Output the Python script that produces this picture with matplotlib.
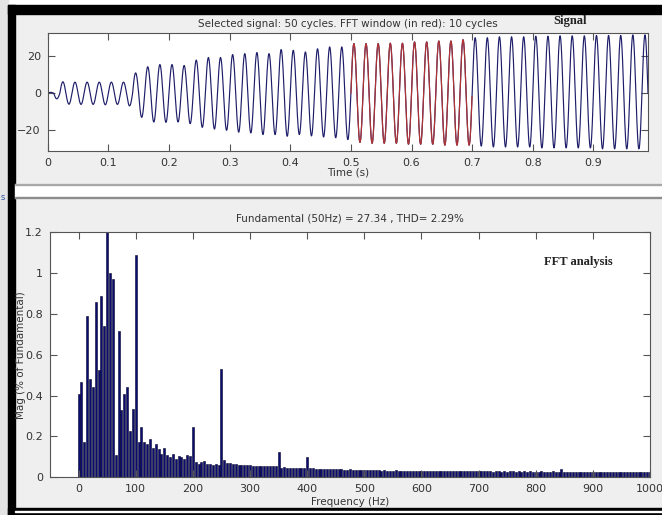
import numpy as np
import matplotlib
matplotlib.use('Agg')
import matplotlib.pyplot as plt
from matplotlib.patches import Rectangle

# per-cycle amplitudes of the 50 Hz signal (positive half, negative half)
peaks = [0.5, 6.2, 6.0, 6.0, 6.0, 6.0, 6.0, 11.0, 14.3, 15.5,
         15.5, 15.0, 17.9, 19.3, 19.3, 20.9, 21.4, 22.0, 21.4, 23.6,
         23.2, 22.3, 24.0, 25.0, 25.0, 26.8, 26.8, 26.8, 27.0, 27.0,
         27.7, 27.7, 28.2, 28.2, 28.9, 30.0, 30.0, 30.5, 30.5, 30.5,
         30.8, 30.8, 31.0, 31.0, 31.0, 31.2, 31.2, 31.2, 31.5, 31.5]
troughs = [3.0, 5.9, 6.0, 6.0, 6.2, 6.0, 6.8, 13.0, 15.5, 15.7,
           15.5, 16.4, 18.4, 19.3, 20.0, 21.0, 21.4, 22.3, 22.3, 23.2,
           22.3, 23.0, 23.6, 24.0, 25.0, 26.5, 27.0, 27.0, 27.0, 27.5,
           27.5, 27.5, 28.0, 28.0, 28.0, 28.5, 29.0, 29.0, 29.0, 29.0,
           29.5, 29.5, 29.5, 29.5, 29.5, 30.0, 30.0, 30.0, 30.0, 30.0]
F0 = 50.0
WIN_START, WIN_END = 0.5, 0.7

# FFT magnitudes, 5 Hz bins from 0 to 1000 Hz
fft_mag = [0.41, 0.465, 0.175, 0.79, 0.48, 0.44, 0.86, 0.525, 0.89, 0.74,
           1.25, 1.0, 0.97, 0.11, 0.715, 0.33, 0.41, 0.44, 0.225, 0.335,
           1.09, 0.175, 0.245, 0.175, 0.165, 0.19, 0.145, 0.165, 0.14, 0.115,
           0.145, 0.11, 0.10, 0.115, 0.09, 0.105, 0.10, 0.09, 0.11, 0.105,
           0.245,
           # 205-300
           0.075, 0.064, 0.075, 0.078, 0.066, 0.067, 0.062, 0.063, 0.060, 0.53,
           0.083, 0.070, 0.068, 0.066, 0.064, 0.062, 0.060, 0.060, 0.058, 0.058,
           # 305-400
           0.057, 0.057, 0.056, 0.056, 0.055, 0.055, 0.054, 0.055, 0.053, 0.125,
           0.047, 0.050, 0.048, 0.047, 0.047, 0.046, 0.046, 0.045, 0.046, 0.10,
           # 405-500
           0.045, 0.044, 0.043, 0.042, 0.042, 0.041, 0.042, 0.040, 0.041, 0.040,
           0.039, 0.040, 0.038, 0.038, 0.039, 0.037, 0.038, 0.036, 0.037, 0.036,
           # 505-600
           0.035, 0.036, 0.034, 0.035, 0.034, 0.033, 0.034, 0.033, 0.030, 0.033,
           0.034, 0.032, 0.033, 0.032, 0.031, 0.032, 0.033, 0.031, 0.032, 0.031,
           # 605-700
           0.030, 0.032, 0.031, 0.030, 0.031, 0.029, 0.031, 0.030, 0.031, 0.029,
           0.030, 0.031, 0.029, 0.030, 0.030, 0.029, 0.030, 0.029, 0.030, 0.029,
           # 705-800
           0.030, 0.029, 0.029, 0.030, 0.028, 0.029, 0.030, 0.028, 0.029, 0.028,
           0.029, 0.030, 0.028, 0.029, 0.028, 0.033, 0.028, 0.029, 0.028, 0.028,
           # 805-900
           0.028, 0.029, 0.027, 0.028, 0.028, 0.029, 0.027, 0.028, 0.042, 0.028,
           0.027, 0.028, 0.027, 0.028, 0.026, 0.028, 0.027, 0.028, 0.027, 0.028,
           # 905-1000
           0.027, 0.028, 0.026, 0.027, 0.028, 0.026, 0.027, 0.026, 0.027, 0.026,
           0.027, 0.026, 0.025, 0.027, 0.026, 0.025, 0.026, 0.027, 0.025, 0.026]
freqs = np.arange(len(fft_mag)) * 5.0

top_title = 'Selected signal: 50 cycles. FFT window (in red): 10 cycles'
bot_title = 'Fundamental (50Hz) = 27.34 , THD= 2.29%'

W, H = 662, 515
TXT = '#333333'
EDGE = '#555555'

fig = plt.figure(figsize=(W / 100, H / 100), dpi=100)
fig.patch.set_facecolor('#efefef')

def px_rect(x0, y0, x1, y1, color):
    fig.patches.append(Rectangle((x0 / W, 1 - y1 / H), (x1 - x0) / W, (y1 - y0) / H,
                                 transform=fig.transFigure, color=color, zorder=-5))

# window frame bits
px_rect(0, 0, W, 5, 'white')
px_rect(0, 0, 8, H, '#e4e4e4')
px_rect(8, 5, W, 14, 'black')
px_rect(8, 5, 15, H, 'black')
px_rect(8, 508, W, H, 'black')
px_rect(15, 511, W, 512, 'white')
px_rect(15, 184, W, 198, 'white')
px_rect(15, 184, W, 185, '#a8a8a8')
px_rect(15, 197.5, W, 198.5, '#8c8c8c')
fig.text(1 / W, 1 - 198 / H, 's', fontsize=6, color='#3050a0', va='center')

def style(ax):
    ax.set_facecolor('white')
    for s in ax.spines.values():
        s.set_color(EDGE)
        s.set_linewidth(0.8)
    ax.tick_params(direction='in', length=5, width=0.8, color=EDGE,
                   top=True, right=True, labelsize=8, labelcolor=TXT, pad=5)

# ---- signal ----
t = np.arange(0, 1.0, 1 / 5000.0)
k = np.minimum((t * F0).astype(int), len(peaks) - 1)
s = np.sin(2 * np.pi * F0 * t)
y = np.where(s >= 0, np.array(peaks)[k] * s, np.array(troughs)[k] * s)

ax1 = fig.add_axes([47.7 / W, 1 - 150.7 / H, 600.3 / W, 118 / H])
style(ax1)
ax1.plot(t, y, color='#1e1e6a', lw=0.85)
m = (t >= WIN_START) & (t <= WIN_END)
ax1.plot(t[m], y[m], color='#b03434', lw=0.85)
ax1.set_xlim(0, 0.99)
ax1.set_ylim(-31, 32.7)
ax1.set_xticks(np.arange(0, 1.0, 0.1))
ax1.set_xticklabels(['0', '0.1', '0.2', '0.3', '0.4', '0.5', '0.6', '0.7', '0.8', '0.9'])
ax1.set_yticks([-20, 0, 20])
ax1.set_xlabel('Time (s)', fontsize=7.5, color=TXT, labelpad=0)
ax1.set_title(top_title, fontsize=7.5, color=TXT, pad=4)
fig.text(570 / W, 1 - 21 / H, 'Signal', fontsize=9, fontweight='bold',
         family='Liberation Serif', color='#222222', ha='center', va='center')

# ---- FFT ----
ax2 = fig.add_axes([50 / W, 1 - 477.3 / H, 600 / W, 245 / H])
style(ax2)
ax2.bar(freqs, fft_mag, width=3.5, color='#0b0b70', edgecolor='#05052e', linewidth=0.4)
ax2.set_xlim(-50, 1000)
ax2.set_ylim(0, 1.2)
ax2.set_xticks(np.arange(0, 1001, 100))
ax2.set_yticks([0, 0.2, 0.4, 0.6, 0.8, 1.0, 1.2])
ax2.set_yticklabels(['0', '0.2', '0.4', '0.6', '0.8', '1', '1.2'])
ax2.set_xlabel('Frequency (Hz)', fontsize=7.5, color=TXT, labelpad=2)
ax2.set_ylabel('Mag (% of Fundamental)', fontsize=7.5, color=TXT)
ax2.yaxis.set_label_coords(-24 / 600, 0.5)
ax2.set_title(bot_title, fontsize=7.5, color=TXT, pad=8)
fig.text(578 / W, 1 - 262 / H, 'FFT analysis', fontsize=9, fontweight='bold',
         family='Liberation Serif', color='#222222', ha='center', va='center')

fig.savefig('out.png', dpi=100, facecolor=fig.get_facecolor())
